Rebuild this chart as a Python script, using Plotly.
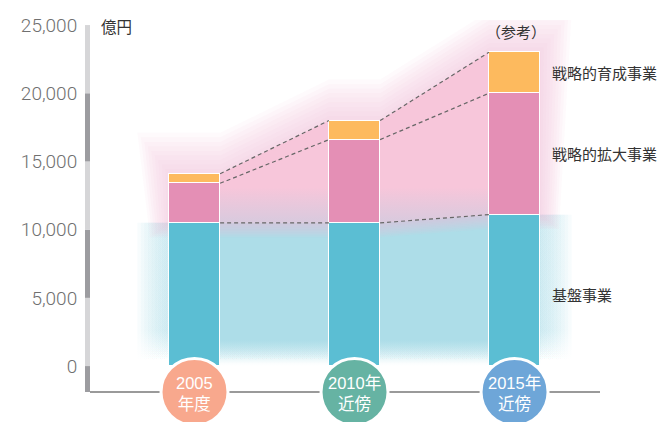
import plotly.graph_objects as go

# ---------------- data ----------------
categories = ["2005<br>年度", "2010年<br>近傍", "2015年<br>近傍"]
series_names = ["基盤事業", "戦略的拡大事業", "戦略的育成事業"]
base_vals = [10500, 10500, 11100]      # 基盤事業
expand_vals = [2900, 6100, 8900]       # 戦略的拡大事業
growth_vals = [700, 1400, 3000]        # 戦略的育成事業
tick_vals = [0, 5000, 10000, 15000, 20000, 25000]
tick_text = ["0", "5,000", "10,000", "15,000", "20,000", "25,000"]
unit_label = "億円"
note_label = "（参考）"

# ---------------- style ----------------
bar_colors = ["#5BBED3", "#E48FB5", "#FDBA5E"]
circle_colors = ["#F8A88D", "#66B3A3", "#6EA6D8"]
axis_light, axis_dark = "#D6D6D8", "#9C9CA0"

# the page body adds an 8px offset, so the figure is 8px smaller
W, H = 657, 414
ML, MR, MT, MB = 78, 65, 12, 30
XR = [-0.678, 2.534]
YR = [-1900, 25370]
plot_w = W - ML - MR
plot_h = H - MT - MB
ux = plot_w / (XR[1] - XR[0])   # px per x unit
uy = plot_h / (YR[1] - YR[0])   # px per y unit
bw = 0.32

xs = list(range(len(categories)))
lvl1 = base_vals
lvl2 = [a + b for a, b in zip(base_vals, expand_vals)]
lvl3 = [a + b for a, b in zip(lvl2, growth_vals)]


def edge_pts(levels, dx=0.0, dy=0.0):
    px, py = [], []
    n = len(levels)
    for i, v in enumerate(levels):
        l = xs[i] - bw / 2 - (dx if i == 0 else 0)
        r = xs[i] + bw / 2 + (dx if i == n - 1 else 0)
        px += [l, r]
        py += [v + dy, v + dy]
    return px, py


fig = go.Figure()

# ---------- blue glow + core (base axes, drawn underneath) ----------
n_layers = 9
step = 3.5
for k in range(n_layers, 0, -1):
    e = step * k
    dx = e / ux
    tx, ty = edge_pts(lvl1, dx, 0)
    px = tx + [tx[-1], tx[0], tx[0]]
    py = ty + [0, 0, ty[0]]
    fig.add_trace(go.Scatter(
        x=px, y=py, mode="lines", line=dict(width=0), fill="toself",
        fillgradient=dict(type="vertical", start=0, stop=2600,
                          colorscale=[[0, "rgba(173,221,232,0)"],
                                      [0.15, "rgba(173,221,232,0)"],
                                      [1, "rgba(173,221,232,0.09)"]]),
        hoverinfo="skip", showlegend=False))

tx, ty = edge_pts(lvl1)
fig.add_trace(go.Scatter(
    x=tx + [tx[-1], tx[0], tx[0]], y=ty + [0, 0, ty[0]], mode="lines",
    line=dict(width=0), fill="toself",
    fillgradient=dict(type="vertical", start=0, stop=1900,
                      colorscale=[[0, "rgba(173,221,232,0)"],
                                  [0.1, "rgba(173,221,232,0.05)"],
                                  [1, "rgba(173,221,232,1)"]]),
    hoverinfo="skip", showlegend=False))

# ---------- pink glow + core ----------
for k in range(n_layers, 0, -1):
    e = step * k
    dx = e / ux
    dy = 1.3 * e / uy
    tx, ty = edge_pts(lvl3, dx, dy)
    bx, by = edge_pts(lvl1, dx * 0.6, -0.35 * dy)
    px = tx + bx[::-1] + [tx[0]]
    py = ty + by[::-1] + [ty[0]]
    fig.add_trace(go.Scatter(
        x=px, y=py, mode="lines", line=dict(width=0), fill="toself",
        fillcolor="rgba(246,190,214,0.08)", hoverinfo="skip", showlegend=False))

tx, ty = edge_pts(lvl3)
bx, by = edge_pts(lvl1)
fig.add_trace(go.Scatter(
    x=tx + bx[::-1] + [tx[0]], y=ty + by[::-1] + [ty[0]], mode="lines",
    line=dict(width=0), fill="toself",
    fillgradient=dict(type="vertical", start=min(lvl1), stop=min(lvl1) + 2600,
                      colorscale=[[0, "#D8CADE"], [1, "#F7C6DA"]]),
    hoverinfo="skip", showlegend=False))

# ---------- bars (overlay axes, drawn above glow) ----------
for vals, name, col in zip([base_vals, expand_vals, growth_vals], series_names, bar_colors):
    fig.add_trace(go.Bar(
        x=xs, y=vals, width=bw, name=name, marker=dict(color=col, line=dict(color="white", width=1.2)),
        xaxis="x2", yaxis="y2", showlegend=False, hoverinfo="skip"))

# ---------- dashed connectors ----------
for lv in [lvl1, lvl2, lvl3]:
    lx, ly = [], []
    for i in range(len(xs) - 1):
        lx += [xs[i] + bw / 2, xs[i + 1] - bw / 2, None]
        ly += [lv[i], lv[i + 1], None]
    fig.add_trace(go.Scatter(
        x=lx, y=ly, mode="lines", line=dict(color="#666666", width=1.2, dash="4px,3px"),
        xaxis="x2", yaxis="y2", showlegend=False, hoverinfo="skip"))

# ---------- category circles ----------
fig.add_trace(go.Scatter(
    x=xs, y=[YR[0]] * len(xs), mode="markers",
    marker=dict(size=67, color=circle_colors, line=dict(color="white", width=3)),
    xaxis="x2", yaxis="y2", cliponaxis=False, showlegend=False, hoverinfo="skip"))

annotations = []
for x, lab in zip(xs, categories):
    annotations.append(dict(x=x, y=YR[0], xref="x2", yref="y2", text=lab, showarrow=False,
                            yshift=-1, xshift=0,
                            font=dict(family="Liberation Sans, Noto Sans CJK JP", size=16.5, color="white")))

# right-hand series labels at segment middles of last bar
mids = [(0 + lvl1[-1]) / 2, (lvl1[-1] + lvl2[-1]) / 2, (lvl2[-1] + lvl3[-1]) / 2]
shifts = [-4, 0, 0]
for name, m, s in zip(series_names, mids, shifts):
    annotations.append(dict(x=xs[-1] + bw / 2, y=m, xref="x2", yref="y2", text=name,
                            showarrow=False, xanchor="left", xshift=10, yshift=s,
                            font=dict(family="Noto Sans CJK JP", size=15, color="#333333")))

annotations.append(dict(x=xs[-1], y=lvl3[-1], xref="x2", yref="y2", text=note_label,
                        showarrow=False, yshift=21, xshift=1,
                        font=dict(family="Noto Sans CJK JP", size=15, color="#333333")))
annotations.append(dict(x=0, y=tick_vals[-1], xref="paper", yref="y", text=unit_label,
                        showarrow=False, xanchor="left", xshift=13, yshift=-1,
                        font=dict(family="Noto Sans CJK JP", size=15.5, color="#333333")))

# ---------- axis decoration ----------
shapes = []
for i in range(len(tick_vals) - 1):
    shapes.append(dict(type="rect", xref="paper", yref="y", x0=-1 / plot_w, x1=4 / plot_w,
                       y0=tick_vals[i], y1=tick_vals[i + 1], line=dict(width=0),
                       fillcolor=axis_light if i % 2 == 0 else axis_dark, layer="below"))
shapes.append(dict(type="rect", xref="paper", yref="y", x0=-1 / plot_w, x1=4 / plot_w,
                   y0=YR[0], y1=tick_vals[0], line=dict(width=0), fillcolor=axis_dark, layer="below"))
shapes.append(dict(type="line", xref="paper", yref="paper", x0=4 / plot_w, x1=1, y0=0, y1=0,
                   line=dict(color="#9A9A9A", width=2), layer="below"))

fig.update_layout(
    width=W, height=H, margin=dict(l=ML, r=MR, t=MT, b=MB, autoexpand=False),
    paper_bgcolor="white", plot_bgcolor="white", barmode="stack", bargap=0,
    xaxis=dict(range=XR, visible=False, fixedrange=True, automargin=False),
    yaxis=dict(range=YR, tickvals=tick_vals, ticktext=tick_text, showgrid=False, zeroline=False,
               showline=False, ticks="outside", ticklen=4, tickcolor="rgba(0,0,0,0)", automargin=False,
               tickfont=dict(family="Roboto", size=19, color="#707070", weight=300)),
    xaxis2=dict(range=XR, visible=False, overlaying="x", fixedrange=True, automargin=False),
    yaxis2=dict(range=YR, visible=False, overlaying="y", fixedrange=True, automargin=False),
    shapes=shapes, annotations=annotations, showlegend=False,
)

fig.write_html("out.html")
